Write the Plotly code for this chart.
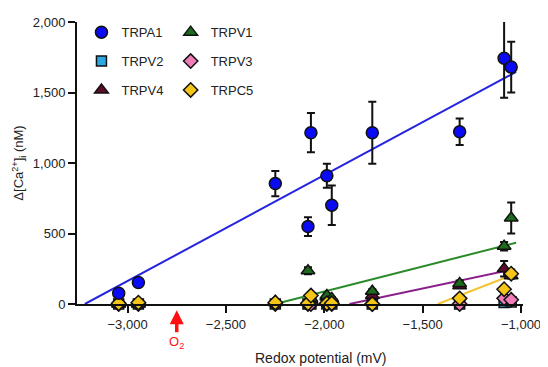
import plotly.graph_objects as go

# x positions (redox potential, mV)
redox_mv = [-3045, -2945, -2249, -2083, -2068, -1987, -1962, -1756, -1312, -1086, -1050]

trpa1 = [76, 153, 854, 549, 1215, 910, 701, 1215, 1222, 1743, 1680]
trpa1_err = [15, 15, 90, 66, 139, 85, 140, 220, 94, 280, 180]
trpv1 = [0, 0, 20, 236, 40, 60, 40, 90, 146, 410, 610]
trpv1_err = [0, 0, 10, 25, 10, 15, 10, 15, 20, 30, 110]
trpv2 = [0, 0, 0, 0, 0, 0, 0, 0, 0, 10, 15]
trpv2_err = [0] * 11
trpv3 = [0, 0, 0, 0, 0, 0, 0, 0, 0, 40, 30]
trpv3_err = [0] * 11
trpv4 = [0, 0, 10, 20, 30, 50, 30, 60, 130, 250, 200]
trpv4_err = [0, 0, 5, 5, 5, 10, 5, 10, 15, 55, 20]
trpc5 = [5, 10, 10, 5, 60, 5, 5, 0, 40, 105, 215]
trpc5_err = [0, 0, 5, 5, 10, 5, 5, 5, 10, 20, 30]

# regression line end points
fit_trpa1_x = [-3217, -1025]
fit_trpa1_y = [0, 1646]
fit_trpv1_x = [-2249, -1025]
fit_trpv1_y = [0, 435]
fit_trpv4_x = [-1872, -1050]
fit_trpv4_y = [0, 243]
fit_trpc5_x = [-1423, -1040]
fit_trpc5_y = [0, 208]

x_ticks = [-3000, -2500, -2000, -1500, -1000]
y_ticks = [0, 500, 1000, 1500, 2000]
o2_x = -2750

FONT = "Arial, Liberation Sans, sans-serif"
fig = go.Figure()

for fx, fy, col in [(fit_trpa1_x, fit_trpa1_y, "#2323e0"),
                    (fit_trpv1_x, fit_trpv1_y, "#2a8a2a"),
                    (fit_trpv4_x, fit_trpv4_y, "#8a1f8a"),
                    (fit_trpc5_x, fit_trpc5_y, "#f4c430")]:
    fig.add_trace(go.Scatter(x=fx, y=fy, mode="lines", line=dict(color=col, width=2),
                             showlegend=False, hoverinfo="skip", cliponaxis=False))

series = [
    ("TRPV2", trpv2, trpv2_err, "square", "#2aa8e0", 10, "legend", 2),
    ("TRPV3", trpv3, trpv3_err, "diamond", "#f07cb8", 11, "legend2", 2),
    ("TRPV4", trpv4, trpv4_err, "triangle-up", "#5e0b2c", 12, "legend", 3),
    ("TRPV1", trpv1, trpv1_err, "triangle-up", "#1d6b1d", 12, "legend2", 1),
    ("TRPC5", trpc5, trpc5_err, "diamond", "#f5c518", 11, "legend2", 3),
    ("TRPA1", trpa1, trpa1_err, "circle", "#0a0af5", 12, "legend", 1),
]
for name, ys, err, sym, col, size, lg, rank in series:
    fig.add_trace(go.Scatter(
        x=redox_mv, y=ys, mode="markers", name=name, legend=lg, legendrank=rank,
        legendgroup=name,
        marker=dict(symbol=sym, color=col, size=size, line=dict(color="#111", width=1.5)),
        error_y=dict(type="data", array=err, color="#111", thickness=2, width=4),
        cliponaxis=False))

fig.add_annotation(x=o2_x, xref="x", y=-0.022, yref="paper", text="O<sub>2</sub>",
                   showarrow=True, arrowhead=2, arrowsize=0.8, arrowwidth=3.5, arrowcolor="#ff1010",
                   ax=0, ay=32, font=dict(color="#ff1010", size=13, family=FONT))
fig.add_annotation(x=(323 - 77) / 450, xref="paper", y=-0.155, yref="paper", yanchor="top",
                   text="Redox potential (mV)", showarrow=False,
                   font=dict(size=14, color="#222", family=FONT))

leg_common = dict(bgcolor="rgba(0,0,0,0)", font=dict(size=13, color="#222", family=FONT),
                  tracegroupgap=9, yanchor="top", xanchor="left", itemwidth=30)
fig.update_layout(
    width=540, height=359,
    margin=dict(l=69, r=21, t=7, b=63),
    paper_bgcolor="white", plot_bgcolor="white",
    font=dict(family=FONT, color="#222", size=13),
    legend=dict(x=0.01, y=1.017, **leg_common),
    legend2=dict(x=0.21, y=1.017, **leg_common),
    xaxis=dict(range=[-3257, -990], tickvals=x_ticks, tickformat=",",
               showgrid=False, zeroline=False, showline=True, linecolor="#111", linewidth=2,
               ticks="outside", ticklen=7, tickwidth=2, tickcolor="#111",
               tickfont=dict(size=13, family=FONT, color="#222")),
    yaxis=dict(range=[0, 2000], tickvals=y_ticks, tickformat=",",
               showgrid=False, zeroline=False, showline=True, linecolor="#111", linewidth=2,
               ticks="outside", ticklen=7, tickwidth=2, tickcolor="#111",
               tickfont=dict(size=13, family=FONT, color="#222"),
               title=dict(text="Δ[Ca<sup>2+</sup>]<sub>i</sub> (nM)", standoff=6,
                          font=dict(size=13, family=FONT, color="#222"))),
)
fig.write_html("out.html")
